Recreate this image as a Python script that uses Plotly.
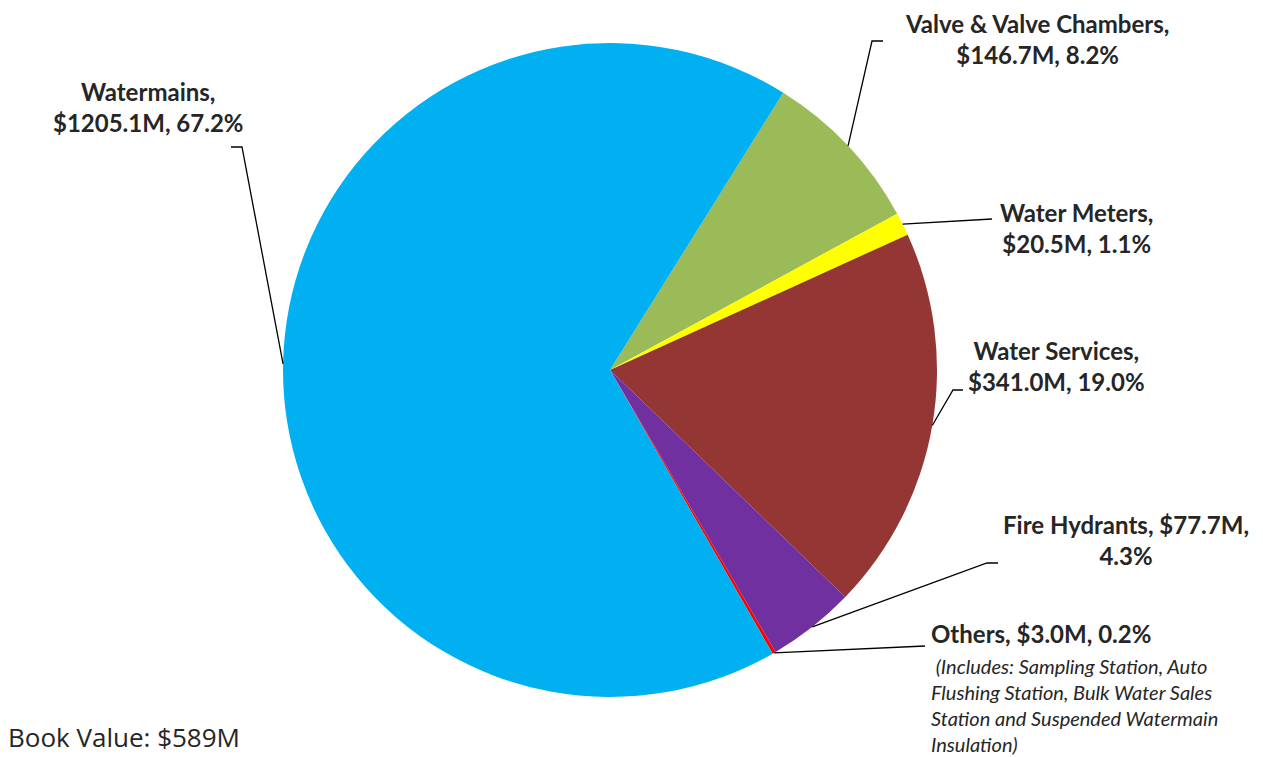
import math
import plotly.graph_objects as go

# ---- data ----
categories = ["Valve & Valve Chambers", "Water Meters", "Water Services",
              "Fire Hydrants", "Others", "Watermains"]
values_m = [146.7, 20.5, 341.0, 77.7, 3.0, 1205.1]
percents = [8.2, 1.1, 19.0, 4.3, 0.2, 67.2]
colors = ["#9BBB59", "#FFFF00", "#943634", "#7030A0", "#FF0000", "#00B0F0"]
book_value = "Book Value: $589M"
others_note = ["\u00a0(Includes: Sampling Station, Auto", "Flushing Station, Bulk Water Sales",
               "Station and Suspended Watermain", "Insulation)"]

W, H = 1263, 757
CX, CY, R = 610, 370, 327
ROT = 32.0

def px(x, y):
    return x / W, 1 - y / H

fig = go.Figure()
fig.add_trace(go.Pie(
    labels=categories, values=values_m, sort=False, direction="clockwise",
    rotation=ROT, marker=dict(colors=colors, line=dict(width=0)),
    textinfo="none", hoverinfo="label+value+percent", showlegend=False,
    domain=dict(x=[(CX - R) / W, (CX + R) / W], y=[(H - CY - R) / H, (H - CY + R) / H]),
))

# slice mid-angle anchor points on the pie edge
total = sum(values_m)
anchors = []
acc = 0.0
for v in values_m:
    mid = ROT + (acc + v / 2) / total * 360
    acc += v
    a = math.radians(mid)
    anchors.append((CX + R * math.sin(a), CY - R * math.cos(a)))

# leader line elbows (layout) per category
elbows = {
    "Valve & Valve Chambers": [(872, 41), (883, 41)],
    "Water Meters": [(992, 219)],
    "Water Services": [(953, 390), (963, 390)],
    "Fire Hydrants": [(987, 563), (998, 563)],
    "Others": [(925, 646)],
    "Watermains": [(242, 147), (231, 147)],
}

shapes = []
for cat, (ax, ay) in zip(categories, anchors):
    pts = [(ax, ay)] + elbows[cat]
    path = "M " + " L ".join(f"{px(x, y)[0]:.5f},{px(x, y)[1]:.5f}" for x, y in pts)
    shapes.append(dict(type="path", xref="paper", yref="paper", path=path,
                       line=dict(color="#000000", width=1.3)))

FONT = "Lato, Carlito, Calibri, sans-serif"
label_font = dict(family=FONT, size=24, color="#262626")

def fmt(i):
    return f"${values_m[i]:.1f}M", f"{percents[i]:.1f}%"

label_pos = {
    "Watermains": (148, 107, "center", "{c},<br>{v}, {p}"),
    "Valve & Valve Chambers": (1037, 39, "center", "{c},<br>{v}, {p}"),
    "Water Meters": (1076, 228, "center", "{c},<br>{v}, {p}"),
    "Water Services": (1056, 366, "center", "{c},<br>{v}, {p}"),
    "Fire Hydrants": (1126, 540, "center", "{c}, {v},<br>{p}"),
}

annotations = []
for i, cat in enumerate(categories):
    if cat in label_pos:
        x, y, al, tpl = label_pos[cat]
        v, p = fmt(i)
        xx, yy = px(x, y)
        annotations.append(dict(x=xx, y=yy, xref="paper", yref="paper", xanchor="center",
                                yanchor="middle", align=al, showarrow=False,
                                text="<b>" + tpl.format(c=cat, v=v, p=p) + "</b>",
                                font=label_font))

oi = categories.index("Others")
v, p = fmt(oi)
xx, yy = px(929, 633)
annotations.append(dict(x=xx, y=yy, xref="paper", yref="paper", xanchor="left", yanchor="middle",
                        showarrow=False, text=f"<b>Others, {v}, {p}</b>", font=label_font))
xx, yy = px(929, 705)
annotations.append(dict(x=xx, y=yy, xref="paper", yref="paper", xanchor="left", yanchor="middle",
                        align="left", showarrow=False,
                        text="<i>" + "<br>".join(others_note) + "</i>",
                        font=dict(family=FONT, size=20, color="#262626")))
annotations.append(dict(x=px(6, 0)[0], y=0, xref="paper", yref="paper", xanchor="left",
                        yanchor="bottom", showarrow=False, text=book_value,
                        font=dict(family="Open Sans, sans-serif", size=26, color="#262626")))

fig.update_layout(width=W, height=H, margin=dict(l=0, r=0, t=0, b=0),
                  paper_bgcolor="white", plot_bgcolor="white",
                  shapes=shapes, annotations=annotations)
fig.write_html("out.html")
